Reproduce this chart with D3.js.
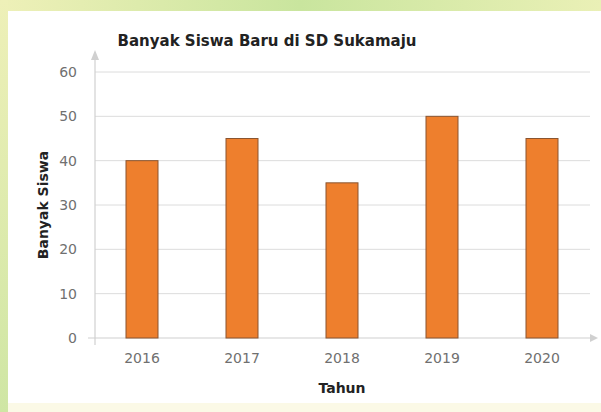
<!DOCTYPE html>
<html><head><meta charset="utf-8">
<script src="https://cdn.jsdelivr.net/npm/d3@7"></script>
<style>body{margin:0;background:#fff}svg{display:block}</style>
</head><body>
<svg id="c" width="601" height="412"></svg>
<script>
const years = ["2016","2017","2018","2019","2020"];
const students = [40, 45, 35, 50, 45];
const yTicks = [0,10,20,30,40,50,60];
const title = "Banyak Siswa Baru di SD Sukamaju";
const xTitle = "Tahun";
const yTitle = "Banyak Siswa";

const svg = d3.select("#c");
const defs = svg.append("defs");
const gTop = defs.append("linearGradient").attr("id","gt").attr("x1","0").attr("x2","1");
gTop.append("stop").attr("offset","0").attr("stop-color","#eef0b8");
gTop.append("stop").attr("offset","0.5").attr("stop-color","#c9e59e");
gTop.append("stop").attr("offset","1").attr("stop-color","#eaf0b6");
const gLeft = defs.append("linearGradient").attr("id","gl").attr("x1","0").attr("x2","0").attr("y1","0").attr("y2","1");
gLeft.append("stop").attr("offset","0").attr("stop-color","#eef0b8");
gLeft.append("stop").attr("offset","1").attr("stop-color","#cfe6a4");

svg.append("rect").attr("width",601).attr("height",412).attr("fill","#fbf9e6");
svg.append("rect").attr("width",601).attr("height",12).attr("fill","url(#gt)");
svg.append("rect").attr("y",0).attr("width",8).attr("height",412).attr("fill","url(#gl)");
svg.append("rect").attr("x",8).attr("y",11).attr("width",593).attr("height",392).attr("fill","#ffffff");

const fontF = "'DejaVu Sans', sans-serif";

const x = d3.scaleBand().domain(years).range([92,592]).paddingInner(0.68).paddingOuter(0.34);
const y = d3.scaleLinear().domain([0,60]).range([338,72]);

// gridlines
svg.append("g").selectAll("line").data(yTicks.filter(d=>d>0)).join("line")
  .attr("x1",95).attr("x2",590).attr("y1",d=>y(d)).attr("y2",d=>y(d))
  .attr("stroke","#dcdcdc").attr("stroke-width",1);

// y axis
const yAxis = d3.axisLeft(y).tickValues(yTicks).tickSize(0).tickPadding(18);
const ga = svg.append("g").attr("transform","translate(95,0)").call(yAxis);
ga.select(".domain").remove();
ga.selectAll("text").attr("fill","#707070").attr("font-size",14).attr("font-family",fontF);
svg.append("line").attr("x1",95).attr("x2",95).attr("y1",52).attr("y2",345).attr("stroke","#d0d0d0").attr("stroke-width",1.2);
svg.append("path").attr("d","M91,60 L95,50 L99,60 Z").attr("fill","#d0d0d0");

// x axis
const xAxis = d3.axisBottom(x).tickSize(0).tickPadding(15);
const gx = svg.append("g").attr("transform","translate(0,338)").call(xAxis);
gx.select(".domain").remove();
gx.selectAll("text").attr("fill","#707070").attr("font-size",14).attr("font-family",fontF);
svg.append("line").attr("x1",88).attr("x2",594).attr("y1",338).attr("y2",338).attr("stroke","#d0d0d0").attr("stroke-width",1.2);
svg.append("path").attr("d","M590,334 L598,338 L590,342 Z").attr("fill","#d0d0d0");

// bars
svg.append("g").selectAll("rect").data(years.map((d,i)=>({year:d,v:students[i]}))).join("rect")
  .attr("x",d=>x(d.year)).attr("width",x.bandwidth())
  .attr("y",d=>y(d.v)).attr("height",d=>y(0)-y(d.v))
  .attr("fill","#ee7f2d").attr("stroke","#8a5530").attr("stroke-width",1);

// titles
svg.append("text").attr("x",267).attr("y",46).attr("text-anchor","middle")
  .attr("font-size",15).attr("font-weight","bold").attr("font-family",fontF).attr("fill","#222").text(title);
svg.append("text").attr("x",342).attr("y",393).attr("text-anchor","middle")
  .attr("font-size",14).attr("font-weight","bold").attr("font-family",fontF).attr("fill","#222").text(xTitle);
svg.append("text").attr("transform","translate(48,205) rotate(-90)").attr("text-anchor","middle")
  .attr("font-size",14).attr("font-weight","bold").attr("font-family",fontF).attr("fill","#222").text(yTitle);
</script>
</body></html>
